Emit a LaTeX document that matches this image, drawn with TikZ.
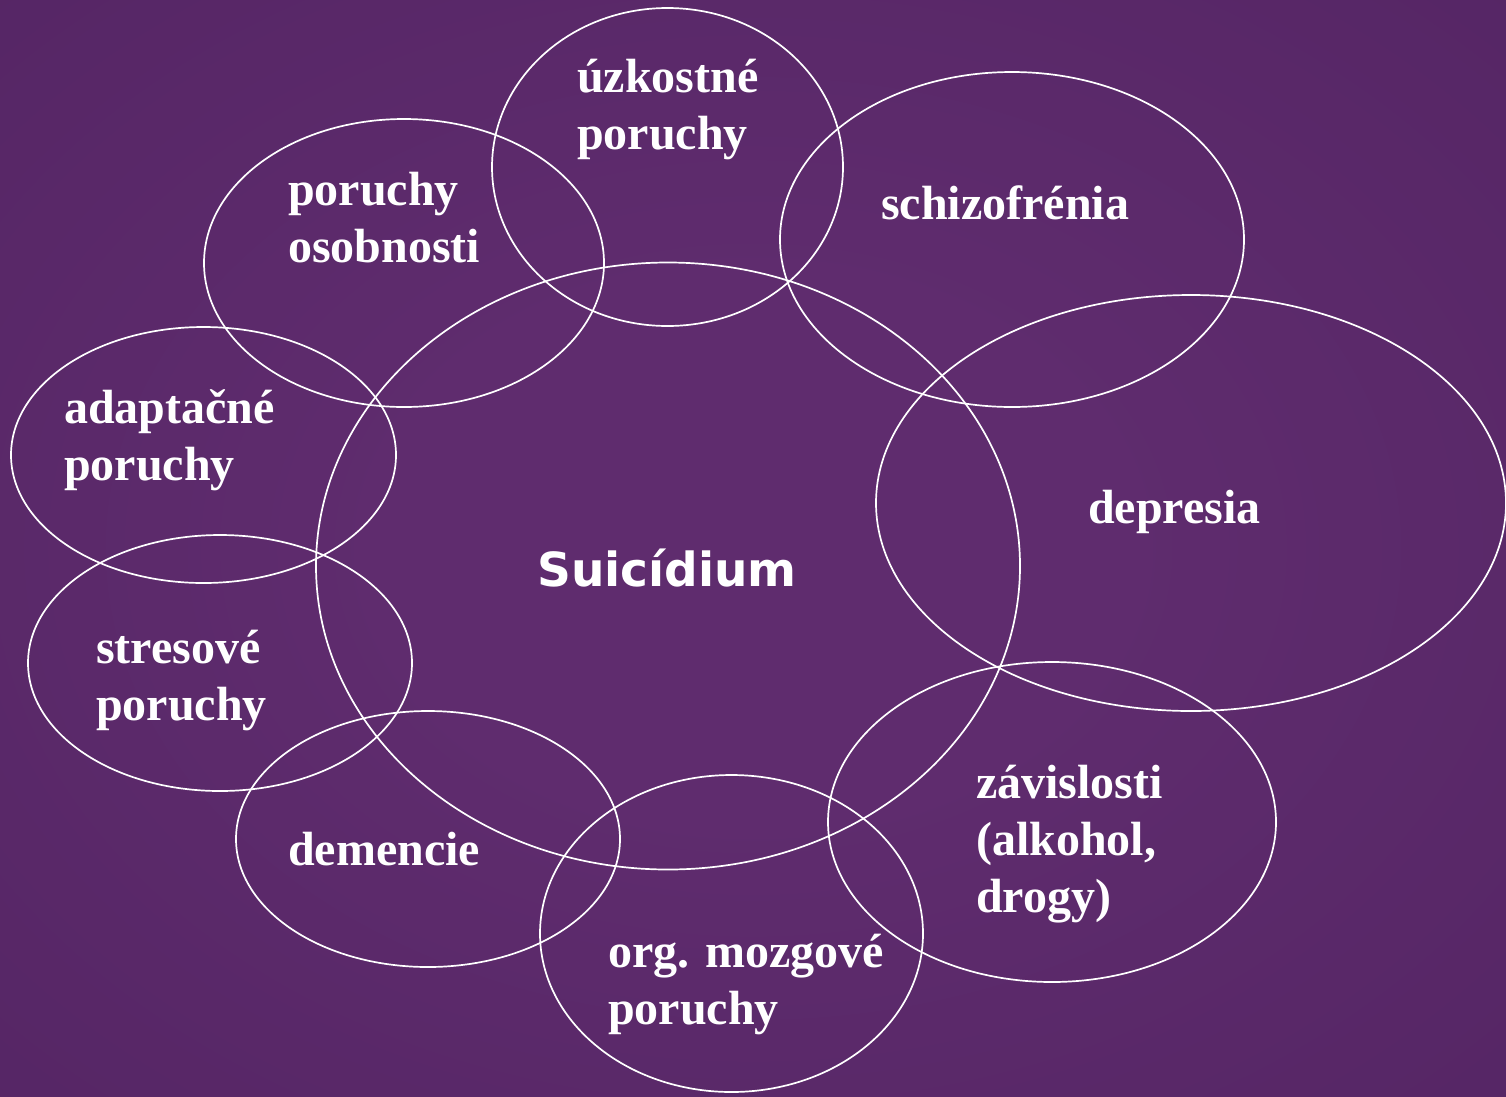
\documentclass[tikz,border=0pt]{standalone}
\usepackage{fontspec}
\setmainfont{Liberation Serif}
\newfontfamily\suifont{DejaVu Sans}
\definecolor{bginner}{HTML}{5F2C6E}
\definecolor{bgouter}{HTML}{502260}
\pgfdeclareradialshading{bgshade}{\pgfpoint{0bp}{0bp}}{color(0bp)=(bginner); color(12bp)=(bginner); color(50bp)=(bgouter)}
\tikzset{
  ring/.style={draw=white, line width=1.7pt},
  lbl/.style={anchor=base west, inner sep=0pt, text=white, font=\fontsize{48}{57}\selectfont\bfseries},
}
\newcommand{\twolines}[1]{\begin{tabular}[t]{@{}l@{}}#1\end{tabular}}
\begin{document}
\begin{tikzpicture}[x=1pt,y=-1pt]
\useasboundingbox (0,0) rectangle (1506,1096);
\shade[shading=bgshade] (0,0) rectangle (1506,1096);
% ellipses
\draw[ring] (668,566) ellipse [x radius=352, y radius=303.5];
\draw[ring] (667.5,167) ellipse [x radius=175.5, y radius=159];
\draw[ring] (1012,239.5) ellipse [x radius=232, y radius=167.5];
\draw[ring] (1191,503) ellipse [x radius=315, y radius=208];
\draw[ring] (1052,822) ellipse [x radius=224, y radius=160];
\draw[ring] (731.5,933.5) ellipse [x radius=191.5, y radius=158.5];
\draw[ring] (428,839) ellipse [x radius=192, y radius=128];
\draw[ring] (220,663) ellipse [x radius=192, y radius=128];
\draw[ring] (203.5,455) ellipse [x radius=192.5, y radius=128];
\draw[ring] (404,263) ellipse [x radius=200, y radius=144];
% labels
\node[lbl] (uzk) at (577,92) {\twolines{úzkostné\\poruchy}};
\node[lbl] (oso) at (288,205) {\twolines{poruchy\\osobnosti}};
\node[lbl] (sch) at (881,219) {schizofrénia};
\node[lbl] (ada) at (64,423) {\twolines{adaptačné\\poruchy}};
\node[lbl] (dep) at (1088,523) {depresia};
\node[lbl] (str) at (96,663) {\twolines{stresové\\poruchy}};
\node[lbl] (dem) at (288,865) {demencie};
\node[lbl] (org) at (608,967) {\twolines{org. mozgové\\poruchy}};
\node[lbl] (zav) at (976,798) {\twolines{závislosti\\(alkohol,\\drogy)}};
\node[anchor=base west, inner sep=0pt, text=white, font=\suifont\fontsize{47}{56}\selectfont\bfseries] (sui) at (537,586) {Suicídium};
\end{tikzpicture}
\end{document}
